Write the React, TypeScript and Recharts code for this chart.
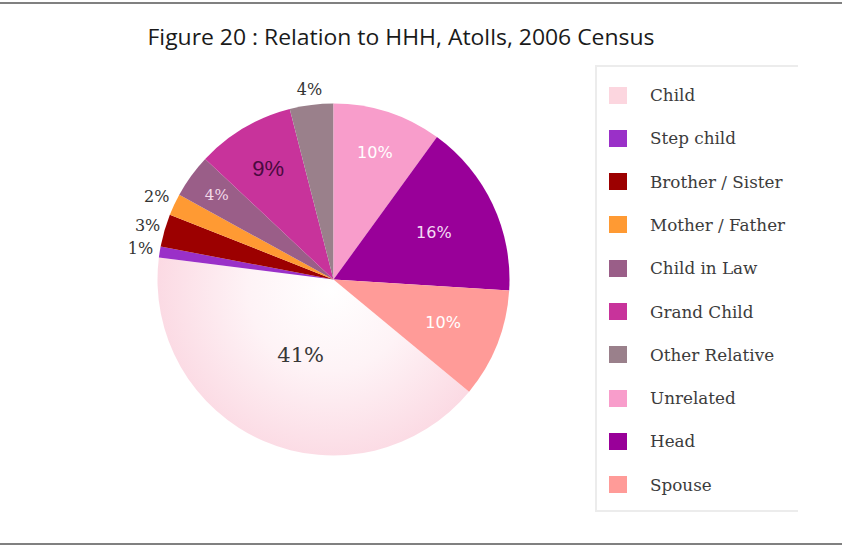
import { PieChart, Pie, Cell, Legend } from "recharts";

// Relation to head of household, Atolls, 2006 Census (percent)
const categories = [
  "Child",
  "Step child",
  "Brother / Sister",
  "Mother / Father",
  "Child in Law",
  "Grand Child",
  "Other Relative",
  "Unrelated",
  "Head",
  "Spouse",
];
const shares = [41, 1, 3, 2, 4, 9, 4, 10, 16, 10];
const swatches = [
  "#fcd6df",
  "#9a30c8",
  "#9c0000",
  "#ff9a33",
  "#9a5e88",
  "#c8339b",
  "#9a808b",
  "#f89dcb",
  "#990099",
  "#ff9b98",
];

// label placement: k = distance from centre as a share of the radius
const labelStyle: Record<string, { k: number; color: string; size: number; font: string }> = {
  Child: { k: 0.47, color: "#383838", size: 21, font: "DejaVu Serif" },
  "Step child": { k: 1.11, color: "#333", size: 16, font: "DejaVu Serif" },
  "Brother / Sister": { k: 1.1, color: "#333", size: 16, font: "DejaVu Serif" },
  "Mother / Father": { k: 1.11, color: "#333", size: 16, font: "DejaVu Serif" },
  "Child in Law": { k: 0.82, color: "#f3dbe9", size: 15, font: "DejaVu Serif" },
  "Grand Child": { k: 0.73, color: "#4a0a40", size: 22, font: "Liberation Sans" },
  "Other Relative": { k: 1.09, color: "#333", size: 16, font: "DejaVu Serif" },
  Unrelated: { k: 0.76, color: "#fff", size: 16, font: "DejaVu Sans" },
  Head: { k: 0.63, color: "#f4dcf4", size: 16, font: "DejaVu Sans" },
  Spouse: { k: 0.67, color: "#fff", size: 16, font: "DejaVu Sans" },
};

const data = categories.map((name, i) => ({ name, value: shares[i] }));

// the first three slices of the clock (Unrelated, Head, Spouse) sit before Child
const before = shares.slice(7).reduce((a, b) => a + b, 0);
const startAngle = 90 - (360 * before) / 100;

const RADIAN = Math.PI / 180;

function SliceLabel(props: any) {
  const { cx, cy, midAngle, outerRadius, name, value } = props;
  const s = labelStyle[name];
  const r = outerRadius * s.k;
  const x = cx + r * Math.cos(-midAngle * RADIAN);
  const y = cy + r * Math.sin(-midAngle * RADIAN);
  return (
    <text
      x={x}
      y={y}
      fill={s.color}
      fontSize={s.size}
      fontFamily={s.font}
      textAnchor="middle"
      dominantBaseline="central"
    >
      {value}%
    </text>
  );
}

function LegendBox() {
  return (
    <div
      style={{
        width: 203,
        height: 447,
        boxSizing: "border-box",
        borderTop: "2px solid #ececec",
        borderLeft: "2px solid #ececec",
        borderBottom: "2px solid #ececec",
        position: "relative",
        fontFamily: "DejaVu Serif",
        fontSize: 16.8,
        color: "#3c3c3c",
      }}
    >
      {categories.map((c, i) => (
        <div
          key={c}
          style={{
            position: "absolute",
            left: 12,
            top: 19 + i * 43.3,
            display: "flex",
            alignItems: "center",
            height: 18,
            whiteSpace: "nowrap",
          }}
        >
          <span style={{ width: 18, height: 17, background: swatches[i], display: "inline-block", flex: "none" }} />
          <span style={{ marginLeft: 23 }}>{c}</span>
        </div>
      ))}
    </div>
  );
}

export default function App() {
  return (
    <div style={{ position: "absolute", left: 0, top: 0, width: 842, height: 547, background: "#fff" }}>
      <PieChart width={842} height={547} margin={{ top: 0, right: 0, bottom: 0, left: 0 }}>
        <defs>
          <radialGradient id="childFill" gradientUnits="userSpaceOnUse" cx={330} cy={290} r={180}>
            <stop offset="0%" stopColor="#ffffff" />
            <stop offset="45%" stopColor="#fef3f6" />
            <stop offset="100%" stopColor="#fbd8e2" />
          </radialGradient>
        </defs>
        <Pie
          data={data}
          dataKey="value"
          nameKey="name"
          cx={333.5}
          cy={279.5}
          outerRadius={176}
          startAngle={startAngle}
          endAngle={startAngle - 360}
          stroke="none"
          label={SliceLabel}
          labelLine={false}
          isAnimationActive={false}
        >
          {data.map((d, i) => (
            <Cell key={d.name} fill={i === 0 ? "url(#childFill)" : swatches[i]} />
          ))}
        </Pie>
        <Legend
          layout="vertical"
          align="right"
          verticalAlign="top"
          content={() => <LegendBox />}
          wrapperStyle={{ left: 595, top: 65, width: 203, height: 447 }}
        />
      </PieChart>
      <svg
        width={842}
        height={547}
        style={{ position: "absolute", left: 0, top: 0, pointerEvents: "none" }}
      >
        <line x1={0} x2={842} y1={3} y2={3} stroke="#808080" strokeWidth={2} />
        <line x1={0} x2={842} y1={544} y2={544} stroke="#808080" strokeWidth={2} />
        <text
          x={401}
          y={45}
          textAnchor="middle"
          fontFamily="Open Sans"
          fontSize={22}
          fill="#1a1a1a"
          textLength={507}
          lengthAdjust="spacingAndGlyphs"
        >
          Figure 20 : Relation to HHH, Atolls, 2006 Census
        </text>
      </svg>
    </div>
  );
}
